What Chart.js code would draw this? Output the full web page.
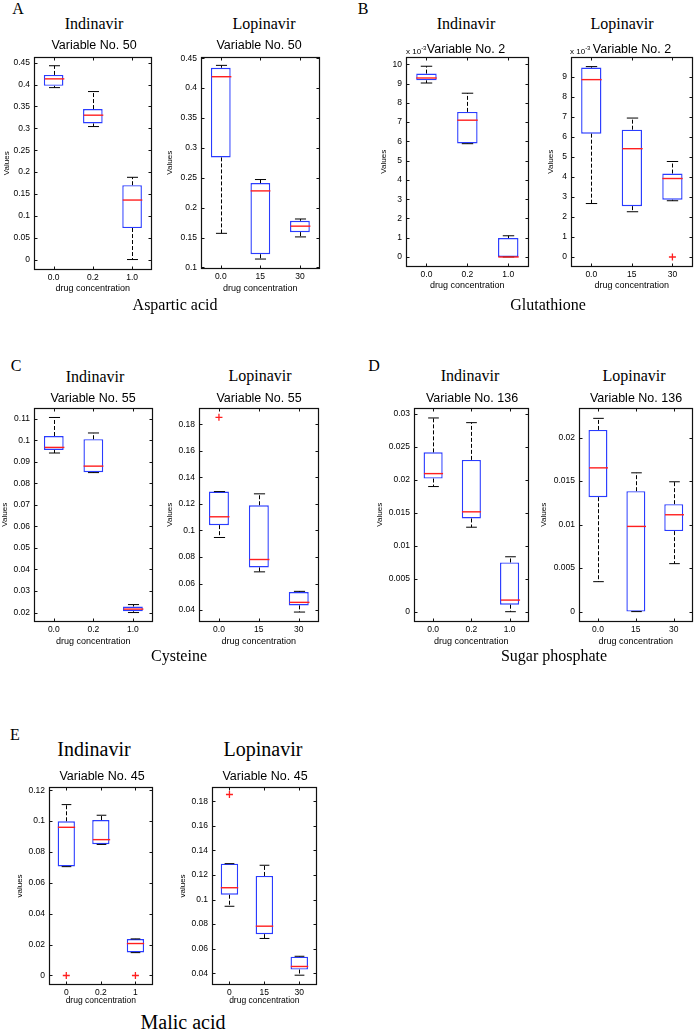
<!DOCTYPE html>
<html>
<head>
<meta charset="utf-8">
<script src="https://cdn.jsdelivr.net/npm/chart.js@4.4.0/dist/chart.umd.min.js"></script>
<style>
body { margin: 0; background: #fff; }
#page { position: relative; width: 698px; height: 1030px; overflow: hidden; background: #fff; }
.lbl { position: absolute; transform: translate(-50%, -50%); white-space: nowrap; color: #000; line-height: 1; }
.serif { font-family: "Liberation Serif", "DejaVu Serif", serif; font-size: 16px; }
.big { font-size: 20px; }
.sans { font-family: "Liberation Sans", Arial, sans-serif; font-size: 12.5px; }
.exp { position: absolute; font-family: "Liberation Sans", Arial, sans-serif; font-size: 8px; line-height: 1; transform: translateY(-50%); }
.exp sup { font-size: 6px; vertical-align: 4px; }
canvas { position: absolute; }
</style>
</head>
<body>
<div id="page"></div>
<script>
// x categories (drug concentration)
const doseInd = ['0.0', '0.2', '1.0'];
const doseLop = ['0.0', '15', '30'];
const doseIndE = ['0', '0.2', '1'];
const doseLopE = ['0', '15', '30'];

// A - Aspartic acid, Variable No. 50
const aIndHigh = [0.443, 0.384, 0.188];
const aIndQ3   = [0.422, 0.344, 0.170];
const aIndMed  = [0.413, 0.330, 0.136];
const aIndQ1   = [0.397, 0.311, 0.072];
const aIndLow  = [0.393, 0.304, 0];
const aIndOut  = [null, null, null];
const aIndTicks = [0, 0.05, 0.1, 0.15, 0.2, 0.25, 0.3, 0.35, 0.4, 0.45];

const aLopHigh = [0.438, 0.247, 0.181];
const aLopQ3   = [0.434, 0.241, 0.178];
const aLopMed  = [0.419, 0.228, 0.169];
const aLopQ1   = [0.284, 0.122, 0.159];
const aLopLow  = [0.157, 0.114, 0.151];
const aLopOut  = [null, null, null];
const aLopTicks = [0.1, 0.15, 0.2, 0.25, 0.3, 0.35, 0.4, 0.45];

// B - Glutathione, Variable No. 2
const bIndHigh = [0.0099, 0.0085, 0.0011];
const bIndQ3   = [0.00952, 0.00753, 0.00098];
const bIndMed  = [0.00929, 0.0071, 0];
const bIndQ1   = [0.00917, 0.00589, 0];
const bIndLow  = [0.00903, 0.00588, 0];
const bIndOut  = [null, null, null];
const bIndTicks = [0, 0.001, 0.002, 0.003, 0.004, 0.005, 0.006, 0.007, 0.008, 0.009, 0.01];

const bLopHigh = [0.00951, 0.00694, 0.00477];
const bLopQ3   = [0.00946, 0.00636, 0.00417];
const bLopMed  = [0.00886, 0.00541, 0.00392];
const bLopQ1   = [0.00616, 0.00254, 0.00286];
const bLopLow  = [0.00267, 0.00226, 0.00281];
const bLopOut  = [null, null, 0];
const bLopTicks = [0, 0.001, 0.002, 0.003, 0.004, 0.005, 0.006, 0.007, 0.008, 0.009];

// C - Cysteine, Variable No. 55
const cIndHigh = [0.1106, 0.1034, 0.0237];
const cIndQ3   = [0.1020, 0.1005, 0.0228];
const cIndMed  = [0.0967, 0.0880, 0.0216];
const cIndQ1   = [0.0955, 0.0852, 0.0206];
const cIndLow  = [0.0941, 0.0850, 0.0200];
const cIndOut  = [null, null, null];
const cIndTicks = [0.02, 0.03, 0.04, 0.05, 0.06, 0.07, 0.08, 0.09, 0.1, 0.11];

const cLopHigh = [0.1293, 0.1276, 0.0541];
const cLopQ3   = [0.1293, 0.1190, 0.0536];
const cLopMed  = [0.1103, 0.0781, 0.0458];
const cLopQ1   = [0.1040, 0.0721, 0.0435];
const cLopLow  = [0.0947, 0.0688, 0.0385];
const cLopOut  = [0.1853, null, null];
const cLopTicks = [0.04, 0.06, 0.08, 0.1, 0.12, 0.14, 0.16, 0.18];

// D - Sugar phosphate, Variable No. 136
const dIndHigh = [0.02935, 0.02864, 0.00832];
const dIndQ3   = [0.02414, 0.0230, 0.00746];
const dIndMed  = [0.02092, 0.01513, 0.00176];
const dIndQ1   = [0.02017, 0.01412, 0.00106];
const dIndLow  = [0.01896, 0.0128, 0];
const dIndOut  = [null, null, null];
const dIndTicks = [0, 0.005, 0.01, 0.015, 0.02, 0.025, 0.03];

const dLopHigh = [0.02221, 0.01595, 0.01492];
const dLopQ3   = [0.02088, 0.01384, 0.01235];
const dLopMed  = [0.01652, 0.00979, 0.01113];
const dLopQ1   = [0.01315, 0, 0.00925];
const dLopLow  = [0.00344, 0, 0.00551];
const dLopOut  = [null, null, null];
const dLopTicks = [0, 0.005, 0.01, 0.015, 0.02];

// E - Malic acid, Variable No. 45
const eIndHigh = [0.1107, 0.1038, 0.0237];
const eIndQ3   = [0.0999, 0.1007, 0.0236];
const eIndMed  = [0.0960, 0.0880, 0.0207];
const eIndQ1   = [0.0706, 0.0850, 0.0149];
const eIndLow  = [0.0705, 0.0849, 0.0148];
const eIndOut  = [0, null, 0];
const eIndTicks = [0, 0.02, 0.04, 0.06, 0.08, 0.1, 0.12];

const eLopHigh = [0.1292, 0.1279, 0.0538];
const eLopQ3   = [0.1292, 0.1192, 0.0535];
const eLopMed  = [0.1096, 0.0783, 0.0455];
const eLopQ1   = [0.1039, 0.0718, 0.0430];
const eLopLow  = [0.0945, 0.0683, 0.0384];
const eLopOut  = [0.1855, null, null];
const eLopTicks = [0.04, 0.06, 0.08, 0.1, 0.12, 0.14, 0.16, 0.18];

const BLUE = '#2a3cff';
const RED = '#ff1f1f';
const SANS = '"Liberation Sans", Arial, sans-serif';
const page = document.getElementById('page');

// whiskers, caps and medians, then the matlab style frame with inward ticks
const boxPlot = {
    id: 'boxPlot',
    afterDatasetsDraw(chart, args, opts) {
        const { ctx, scales: { x, y } } = chart;
        const cw = x.getPixelForValue(1) - x.getPixelForValue(0);
        ctx.save();
        opts.high.forEach((hi, i) => {
            const cx = Math.round(x.getPixelForValue(i)) + 0.5;
            const yHi = y.getPixelForValue(hi);
            const yQ3 = y.getPixelForValue(opts.q3[i]);
            const yQ1 = y.getPixelForValue(opts.q1[i]);
            const yLo = y.getPixelForValue(opts.low[i]);
            const yMed = y.getPixelForValue(opts.med[i]);
            ctx.strokeStyle = '#000';
            ctx.lineWidth = 1;
            ctx.setLineDash([4, 2]);
            ctx.beginPath();
            ctx.moveTo(cx, yQ3); ctx.lineTo(cx, yHi);
            ctx.moveTo(cx, yQ1); ctx.lineTo(cx, yLo);
            ctx.stroke();
            ctx.setLineDash([]);
            const c = cw * 0.14;
            ctx.beginPath();
            ctx.moveTo(cx - c, yHi); ctx.lineTo(cx + c, yHi);
            ctx.moveTo(cx - c, yLo); ctx.lineTo(cx + c, yLo);
            ctx.stroke();
            const m = cw * 0.25;
            ctx.strokeStyle = RED;
            ctx.lineWidth = 1.4;
            ctx.beginPath();
            ctx.moveTo(cx - m, yMed); ctx.lineTo(cx + m, yMed);
            ctx.stroke();
        });
        ctx.restore();
    },
    afterDraw(chart) {
        const { ctx, chartArea, scales: { x, y } } = chart;
        const L = Math.round(chartArea.left) + 0.5;
        const R = Math.round(chartArea.right) - 0.5;
        const T = Math.round(chartArea.top) + 0.5;
        const B = Math.round(chartArea.bottom) - 0.5;
        ctx.save();
        ctx.strokeStyle = '#111';
        ctx.lineWidth = 1.2;
        ctx.strokeRect(L, T, R - L, B - T);
        ctx.lineWidth = 1;
        ctx.beginPath();
        y.ticks.forEach(t => {
            const py = Math.round(y.getPixelForValue(t.value)) + 0.5;
            ctx.moveTo(L, py); ctx.lineTo(L + 3, py);
            ctx.moveTo(R, py); ctx.lineTo(R - 3, py);
        });
        x.ticks.forEach((t, i) => {
            const px = Math.round(x.getPixelForValue(i)) + 0.5;
            ctx.moveTo(px, B); ctx.lineTo(px, B - 3);
            ctx.moveTo(px, T); ctx.lineTo(px, T + 3);
        });
        ctx.stroke();
        ctx.restore();
    }
};

function makeBox(p) {
    const yTitleLH = 8 * 1.2;
    const xTitleLH = p.xTitleSize * 1.2;
    const padTop = 7, padRight = 3, padBottom = 3;
    const cLeft = Math.round(p.valuesX - yTitleLH / 2);
    const cTop = p.top - padTop;
    const yW = p.left - cLeft;
    const xH = p.xTitleY + xTitleLH / 2 - p.bottom;
    const w = Math.round(p.right - cLeft + padRight);
    const h = Math.round(p.bottom - cTop + xH + padBottom);

    const canvas = document.createElement('canvas');
    canvas.width = w;
    canvas.height = h;
    canvas.style.left = cLeft + 'px';
    canvas.style.top = cTop + 'px';
    canvas.style.width = w + 'px';
    canvas.style.height = h + 'px';
    page.appendChild(canvas);

    new Chart(canvas, {
        type: 'bar',
        data: {
            labels: p.labels,
            datasets: [{
                data: p.q1.map((v, i) => [v, p.q3[i]]),
                backgroundColor: '#fff',
                borderColor: BLUE,
                borderWidth: 1.4,
                borderSkipped: false,
                barPercentage: 0.5,
                categoryPercentage: 1
            }, {
                type: 'line',
                data: p.out,
                showLine: false,
                pointStyle: 'cross',
                pointRadius: 3.5,
                borderColor: RED,
                borderWidth: 1.3
            }]
        },
        options: {
            responsive: false,
            animation: false,
            devicePixelRatio: 1,
            layout: { padding: { top: padTop, right: padRight, bottom: padBottom, left: 0 } },
            plugins: {
                legend: { display: false },
                tooltip: { enabled: false },
                boxPlot: { high: p.high, q3: p.q3, med: p.med, q1: p.q1, low: p.low }
            },
            scales: {
                x: {
                    grid: { display: false, drawTicks: false },
                    border: { display: false },
                    ticks: { color: '#000', padding: 3, maxRotation: 0, autoSkip: false,
                             font: { family: SANS, size: p.tickSize } },
                    title: { display: true, text: 'drug concentration', color: '#000', padding: 0,
                             font: { family: SANS, size: p.xTitleSize } },
                    afterFit: s => { s.height = xH; s.paddingLeft = 0; s.paddingRight = 0; }
                },
                y: {
                    min: p.yMin,
                    max: p.yMax,
                    grid: { display: false, drawTicks: false },
                    border: { display: false },
                    afterBuildTicks: s => { s.ticks = p.ticks.map(v => ({ value: v })); },
                    ticks: { color: '#000', padding: 4, font: { family: SANS, size: p.tickSize },
                             callback: p.fmt || (v => String(+v.toFixed(4))) },
                    title: { display: true, text: p.yTitle || 'Values', color: '#000', padding: 0,
                             font: { family: SANS, size: 8 } },
                    afterFit: s => { s.width = yW; s.paddingTop = 0; s.paddingBottom = 0; }
                }
            }
        },
        plugins: [boxPlot]
    });
}

function label(text, x, y, cls) {
    const d = document.createElement('div');
    d.className = 'lbl ' + cls;
    d.textContent = text;
    d.style.left = x + 'px';
    d.style.top = y + 'px';
    page.appendChild(d);
}

function expLabel(x, y) {
    const d = document.createElement('div');
    d.className = 'exp';
    d.innerHTML = 'x 10<sup>-3</sup>';
    d.style.left = x + 'px';
    d.style.top = y + 'px';
    page.appendChild(d);
}

const milli = v => String(Math.round(v * 1000));

// panel A
makeBox({ left: 34, top: 57, right: 154, bottom: 270, valuesX: 7, xTitleY: 289,
    yMin: -0.023, yMax: 0.463, tickSize: 8.5, xTitleSize: 9, labels: doseInd, ticks: aIndTicks,
    high: aIndHigh, q3: aIndQ3, med: aIndMed, q1: aIndQ1, low: aIndLow, out: aIndOut });
makeBox({ left: 201, top: 57, right: 322, bottom: 269, valuesX: 170, xTitleY: 289,
    yMin: 0.098, yMax: 0.452, tickSize: 8.5, xTitleSize: 9, labels: doseLop, ticks: aLopTicks,
    high: aLopHigh, q3: aLopQ3, med: aLopMed, q1: aLopQ1, low: aLopLow, out: aLopOut });

// panel B
makeBox({ left: 406, top: 57, right: 531, bottom: 267, valuesX: 384, xTitleY: 286,
    yMin: -0.0005, yMax: 0.01038, tickSize: 8.5, xTitleSize: 9, labels: doseInd, ticks: bIndTicks,
    fmt: milli, high: bIndHigh, q3: bIndQ3, med: bIndMed, q1: bIndQ1, low: bIndLow, out: bIndOut });
makeBox({ left: 571, top: 57, right: 695, bottom: 267, valuesX: 551, xTitleY: 286,
    yMin: -0.00048, yMax: 0.00999, tickSize: 8.5, xTitleSize: 9, labels: doseLop, ticks: bLopTicks,
    fmt: milli, high: bLopHigh, q3: bLopQ3, med: bLopMed, q1: bLopQ1, low: bLopLow, out: bLopOut });

// panel C
makeBox({ left: 34, top: 408, right: 155, bottom: 622, valuesX: 5, xTitleY: 642,
    yMin: 0.0158, yMax: 0.115, tickSize: 8.5, xTitleSize: 9, labels: doseInd, ticks: cIndTicks,
    high: cIndHigh, q3: cIndQ3, med: cIndMed, q1: cIndQ1, low: cIndLow, out: cIndOut });
makeBox({ left: 199, top: 408, right: 321, bottom: 622, valuesX: 169.5, xTitleY: 642,
    yMin: 0.0313, yMax: 0.1923, tickSize: 8.5, xTitleSize: 9, labels: doseLop, ticks: cLopTicks,
    high: cLopHigh, q3: cLopQ3, med: cLopMed, q1: cLopQ1, low: cLopLow, out: cLopOut });

// panel D
makeBox({ left: 414, top: 408, right: 531, bottom: 622, valuesX: 380, xTitleY: 642,
    yMin: -0.0015, yMax: 0.03086, tickSize: 8.5, xTitleSize: 9, labels: doseInd, ticks: dIndTicks,
    high: dIndHigh, q3: dIndQ3, med: dIndMed, q1: dIndQ1, low: dIndLow, out: dIndOut });
makeBox({ left: 579, top: 408, right: 695, bottom: 622, valuesX: 544, xTitleY: 642,
    yMin: -0.00115, yMax: 0.0234, tickSize: 8.5, xTitleSize: 9, labels: doseLop, ticks: dLopTicks,
    high: dLopHigh, q3: dLopQ3, med: dLopMed, q1: dLopQ1, low: dLopLow, out: dLopOut });

// panel E
makeBox({ left: 49, top: 787, right: 155, bottom: 985, valuesX: 20, xTitleY: 1001,
    yMin: -0.0061, yMax: 0.1221, tickSize: 8.5, xTitleSize: 8.5, labels: doseIndE, ticks: eIndTicks,
    yTitle: 'values', high: eIndHigh, q3: eIndQ3, med: eIndMed, q1: eIndQ1, low: eIndLow, out: eIndOut });
makeBox({ left: 212, top: 787, right: 319, bottom: 985, valuesX: 183, xTitleY: 1001,
    yMin: 0.0305, yMax: 0.1916, tickSize: 8.5, xTitleSize: 8.5, labels: doseLopE, ticks: eLopTicks,
    yTitle: 'values', high: eLopHigh, q3: eLopQ3, med: eLopMed, q1: eLopQ1, low: eLopLow, out: eLopOut });

// panel letters, drug names, subplot titles and metabolite captions
label('A', 18, 9, 'serif');
label('Indinavir', 94, 24, 'serif');
label('Lopinavir', 264, 24, 'serif');
label('Variable No. 50', 94, 45, 'sans');
label('Variable No. 50', 259, 45, 'sans');
label('Aspartic acid', 175, 305, 'serif');

label('B', 363, 9, 'serif');
label('Indinavir', 466, 24, 'serif');
label('Lopinavir', 622, 24, 'serif');
label('Variable No. 2', 466, 49, 'sans');
label('Variable No. 2', 632, 49, 'sans');
expLabel(406, 50);
expLabel(570, 50);
label('Glutathione', 548, 305, 'serif');

label('C', 16, 366, 'serif');
label('Indinavir', 95, 377, 'serif');
label('Lopinavir', 260, 376, 'serif');
label('Variable No. 55', 93, 398, 'sans');
label('Variable No. 55', 259, 398, 'sans');
label('Cysteine', 179, 656, 'serif');

label('D', 374, 366, 'serif');
label('Indinavir', 470, 376, 'serif');
label('Lopinavir', 634, 376, 'serif');
label('Variable No. 136', 472, 398, 'sans');
label('Variable No. 136', 636, 398, 'sans');
label('Sugar phosphate', 554, 656, 'serif');

label('E', 15, 735, 'serif');
label('Indinavir', 94, 749, 'serif big');
label('Lopinavir', 263, 749, 'serif big');
label('Variable No. 45', 102, 776, 'sans');
label('Variable No. 45', 265, 776, 'sans');
label('Malic acid', 183, 1022, 'serif big');
</script>
</body>
</html>
